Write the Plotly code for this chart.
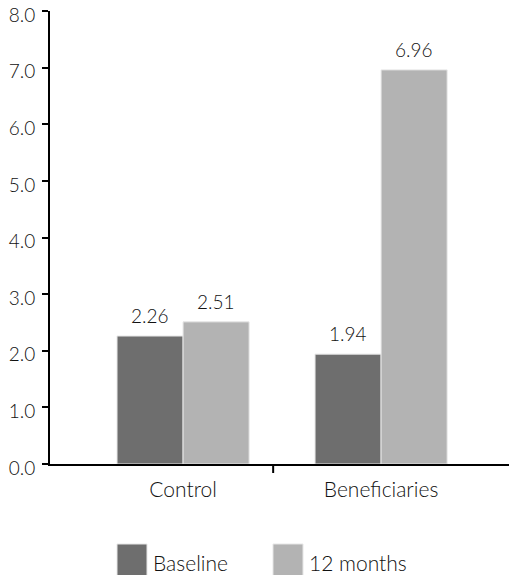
import plotly.graph_objects as go

categories = ["Control", "Beneficiaries"]
series_names = ["Baseline", "12 months"]
baseline = [2.26, 1.94]
months12 = [2.51, 6.96]
y_ticks = [0, 1, 2, 3, 4, 5, 6, 7, 8]

colors = ["#6e6e6e", "#b3b3b3"]
FONT = "Lato"
FW = 300
TXT = "#111111"

W, H = 509, 575
PL, PT, PB = 50, 11, 464          # plot area (px)
plot_w = W - PL
plot_h = PB - PT

def px_x(px):
    return (px - PL) / plot_w

def px_y(py):
    return (PB - py) / plot_h

fig = go.Figure()
annotations = []
half_shift = [-33, 33]
for k, (name, vals, c) in enumerate(zip(series_names, [baseline, months12], colors)):
    fig.add_trace(go.Bar(
        x=categories, y=vals, name=name,
        marker=dict(color=c, line=dict(color="#e6e6e6", width=1)),
        showlegend=False,
    ))
    for cat, v in zip(categories, vals):
        annotations.append(dict(x=cat, y=v, xref="x", yref="y",
                                text=f"{v:.2f}", showarrow=False,
                                xanchor="center", yanchor="bottom",
                                xshift=half_shift[k], yshift=7,
                                font=dict(family=FONT, size=19, color=TXT, weight=FW)))

shapes = []
leg_x = [117, 273]
for i, (name, c) in enumerate(zip(series_names, colors)):
    shapes.append(dict(type="rect", xref="paper", yref="paper",
                       x0=px_x(leg_x[i]), x1=px_x(leg_x[i] + 30),
                       y0=px_y(580), y1=px_y(544),
                       fillcolor=c, line=dict(color="#e6e6e6", width=1)))
    annotations.append(dict(xref="paper", yref="paper", x=px_x(leg_x[i] + 34),
                            y=px_y(562), text=name, showarrow=False,
                            xanchor="left", yanchor="middle",
                            font=dict(family=FONT, size=21, color=TXT, weight=FW)))
shapes.append(dict(type="line", xref="x", yref="paper", x0=0.455, x1=0.455,
                   y0=0, y1=px_y(473), line=dict(color="black", width=2)))

fig.update_layout(
    width=W, height=H,
    margin=dict(l=PL, r=0, t=PT, b=H - PB, autoexpand=False),
    plot_bgcolor="white", paper_bgcolor="white",
    barmode="group", bargap=0.333, bargroupgap=0,
    font=dict(family=FONT, size=19, color=TXT, weight=FW),
    xaxis=dict(range=[-0.672, 1.646], showline=True, linecolor="black",
               linewidth=2, ticks="", showgrid=False, zeroline=False,
               automargin=False, ticklabelstandoff=6,
               tickfont=dict(family=FONT, size=21, color=TXT, weight=FW)),
    yaxis=dict(range=[0, 8], tickvals=y_ticks,
               ticktext=[f"{v:.1f}" for v in y_ticks],
               showline=True, linecolor="black", linewidth=2,
               ticks="outside", ticklen=6, tickwidth=2, tickcolor="black",
               showgrid=False, zeroline=False, automargin=False,
               ticklabeloverflow="allow", ticklabelshift=4,
               ticklabelstandoff=3,
               tickfont=dict(family=FONT, size=19, color=TXT, weight=FW)),
    shapes=shapes, annotations=annotations,
)
fig.write_html("out.html", config={"displayModeBar": False},
               post_script="document.body.style.margin='0';")
